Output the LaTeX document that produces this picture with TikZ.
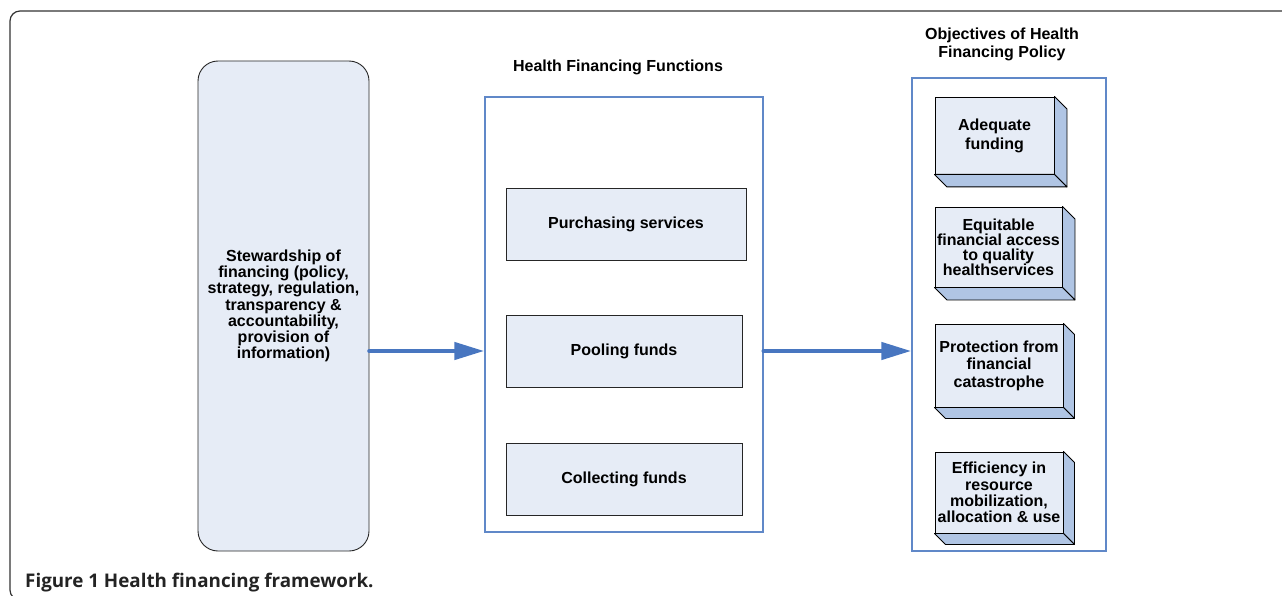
\documentclass[tikz,border=0pt]{standalone}
\usepackage{fontspec}
\setmainfont{Liberation Sans}
\newfontfamily\capfont{Open Sans}
\usetikzlibrary{arrows.meta}
\definecolor{boxfill}{RGB}{230,236,246}
\definecolor{sidefill}{RGB}{176,197,228}
\definecolor{frameblue}{RGB}{96,136,200}
\definecolor{arrowblue}{RGB}{72,118,192}
\definecolor{capgray}{RGB}{35,35,35}
\tikzset{
  lbl/.style={font=\fontsize{16}{16.2}\selectfont\bfseries, align=center, text=black},
  flatbox/.style={draw=black!85, fill=boxfill, line width=0.9pt, inner sep=0pt, lbl},
  blueframe/.style={draw=frameblue, line width=1.4pt, inner sep=0pt},
  flow/.style={draw=arrowblue, line width=4.5pt, line cap=round, -{Triangle[length=30pt,width=17pt]}},
  sideface/.style={fill=sidefill, draw=black, line width=0.9pt, line join=round},
  cubebox/.style={draw=black, fill=boxfill, line width=0.9pt, inner sep=0pt, lbl},
}
\begin{document}
\begin{tikzpicture}[x=1pt,y=-1pt]
\useasboundingbox (0,0) rectangle (1282,596);
\clip (0,0) rectangle (1282,596);
% outer frame
\draw[line width=1.2pt, black!80, rounded corners=10pt] (1300,11) -- (10,11) -- (10,600) -- (200,600);

% stewardship
\node[flatbox, rounded corners=20pt, minimum width=171pt, minimum height=490pt] (stew) at (283.5,306)
  {Stewardship of\\financing (policy,\\strategy, regulation,\\transparency \&\\accountability,\\provision of\\information)};

% functions frame
\node[blueframe, minimum width=278pt, minimum height=435pt] (func) at (624,314.5) {};
\node[lbl, anchor=base] (functitle) at (618,72) {Health Financing Functions};
\node[flatbox, minimum width=240pt, minimum height=72pt] (purch) at (626,224) {Purchasing services};
\node[flatbox, minimum width=236pt, minimum height=72pt] (pool) at (624,351) {Pooling funds};
\node[flatbox, minimum width=236pt, minimum height=72pt] (coll) at (624,479) {Collecting funds};

% objectives frame
\node[blueframe, minimum width=194pt, minimum height=473pt] (obj) at (1009,314.5) {};
\node[lbl, font=\fontsize{16}{18}\selectfont\bfseries, anchor=north] (objtitle) at (1002,24) {Objectives of Health\\Financing Policy};

% 3D boxes
\node[cubebox, minimum width=119pt, minimum height=77pt, font=\fontsize{16}{19}\selectfont\bfseries] (o1) at (994.5,135.5) {Adequate\\funding};
\node[cubebox, minimum width=127pt, minimum height=80pt, font=\fontsize{16}{15}\selectfont\bfseries] (o2) at (998.5,247) {Equitable\\financial access\\to quality\\healthservices};
\node[cubebox, minimum width=128pt, minimum height=83pt, font=\fontsize{16}{17.5}\selectfont\bfseries] (o3) at (999,365.5) {Protection from\\financial\\catastrophe};
\node[cubebox, minimum width=128pt, minimum height=81pt, font=\fontsize{16}{16.3}\selectfont\bfseries] (o4) at (999,492.5) {Efficiency in\\resource\\mobilization,\\allocation \& use};

\foreach \b/\d in {o1/12.5, o2/12.5, o3/11, o4/11}{
  \draw[sideface] (\b.north east) -- ++(\d,\d) -- ([shift={(\d,\d)}]\b.south east) -- (\b.south east) -- cycle;
  \draw[sideface] (\b.south west) -- (\b.south east) -- ([shift={(\d,\d)}]\b.south east) -- ([shift={(\d,\d)}]\b.south west) -- cycle;
}

% connectors
\draw[flow] (stew.east |- pool.center) -- (func.west |- pool.center);
\draw[flow] (func.east |- pool.center) -- (obj.west |- pool.center);

% caption
\node[anchor=base west, inner sep=0pt, text=capgray, font=\capfont\fontsize{18.8}{20}\selectfont\bfseries] (cap) at (25,587) {Figure 1 Health financing framework.};
\end{tikzpicture}
\end{document}
